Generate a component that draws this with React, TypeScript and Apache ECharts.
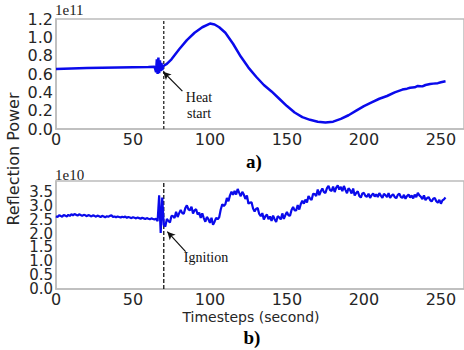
import React, { useEffect, useRef } from "react";
import * as echarts from "echarts";

// ---- data ----
// top panel a): reflection power (x1e11) vs time (s)
const topX = [0, 10, 20, 30, 40, 50, 60, 64, 65, 65.5, 66, 66.5, 67, 67.5, 68, 68.5, 69, 69.5, 70, 72, 75, 80, 85, 90, 95, 100, 103, 106, 110, 115, 120, 125, 130, 135, 140, 145, 150, 155, 160, 165, 170, 175, 180, 185, 190, 195, 200, 205, 210, 215, 220, 225, 228, 230, 233, 235, 238, 240, 243, 245, 248, 250, 253];
const topY = [0.655, 0.66, 0.665, 0.668, 0.671, 0.674, 0.677, 0.68, 0.62, 0.76, 0.6, 0.78, 0.61, 0.75, 0.63, 0.72, 0.64, 0.68, 0.69, 0.71, 0.76, 0.87, 0.97, 1.05, 1.11, 1.15, 1.14, 1.11, 1.05, 0.93, 0.79, 0.67, 0.57, 0.48, 0.41, 0.33, 0.25, 0.18, 0.13, 0.1, 0.08, 0.07, 0.08, 0.11, 0.15, 0.2, 0.25, 0.29, 0.33, 0.36, 0.4, 0.43, 0.44, 0.45, 0.455, 0.47, 0.465, 0.48, 0.49, 0.495, 0.5, 0.51, 0.52];

// bottom panel b): reflection power (x1e10), one value per second from t = 0
const bottomY = [
  2.63, 2.6, 2.66, 2.64, 2.61, 2.67, 2.65, 2.62, 2.68, 2.64,
  2.7, 2.66, 2.71, 2.68, 2.65, 2.7, 2.67, 2.64, 2.68, 2.66,
  2.63, 2.67, 2.65, 2.62, 2.66, 2.64, 2.61, 2.65, 2.63, 2.6,
  2.64, 2.62, 2.59, 2.63, 2.61, 2.64, 2.66, 2.6, 2.62, 2.59,
  2.62, 2.6, 2.58, 2.61, 2.59, 2.62, 2.57, 2.6, 2.58, 2.56,
  2.59, 2.57, 2.55, 2.58, 2.56, 2.54, 2.57, 2.55, 2.53, 2.56,
  2.54, 2.52, 2.55, 2.53, 2.51, 2.54, 2.45, 3.38, 2.02, 3.3,
  2.31, 2.26, 2.53, 2.46, 2.4, 2.64, 2.63, 2.56, 2.79, 2.6,
  2.74, 2.85, 2.74, 2.72, 2.92, 3.02, 2.88, 2.84, 2.97, 2.73,
  2.84, 2.88, 2.69, 2.76, 2.57, 2.73, 2.56, 2.43, 2.6, 2.52,
  2.39, 2.57, 2.32, 2.43, 2.57, 2.52, 2.59, 2.87, 3.06, 3.0,
  3.06, 3.29, 3.17, 3.38, 3.51, 3.4, 3.54, 3.41, 3.61, 3.47,
  3.35, 3.51, 3.41, 3.25, 3.38, 3.08, 3.12, 3.13, 2.91, 2.8,
  2.9, 2.92, 2.71, 2.63, 2.74, 2.51, 2.63, 2.69, 2.52, 2.62,
  2.46, 2.65, 2.52, 2.42, 2.63, 2.59, 2.51, 2.73, 2.53, 2.67,
  2.78, 2.66, 2.65, 2.85, 2.96, 2.84, 2.84, 3.03, 2.87, 3.07,
  3.19, 3.08, 3.23, 3.12, 3.36, 3.27, 3.21, 3.44, 3.43, 3.36,
  3.59, 3.39, 3.53, 3.63, 3.5, 3.47, 3.64, 3.72, 3.57, 3.54,
  3.7, 3.5, 3.66, 3.74, 3.59, 3.69, 3.53, 3.72, 3.58, 3.46,
  3.64, 3.57, 3.45, 3.63, 3.38, 3.47, 3.53, 3.36, 3.3, 3.45,
  3.47, 3.36, 3.33, 3.44, 3.29, 3.39, 3.45, 3.34, 3.42, 3.32,
  3.46, 3.37, 3.29, 3.43, 3.39, 3.32, 3.46, 3.29, 3.37, 3.42,
  3.32, 3.28, 3.4, 3.44, 3.32, 3.29, 3.4, 3.26, 3.36, 3.41,
  3.3, 3.38, 3.27, 3.41, 3.32, 3.47, 3.38, 3.33, 3.25, 3.38,
  3.21, 3.28, 3.32, 3.21, 3.16, 3.26, 3.29, 3.17, 3.12, 3.22,
  3.08, 3.2, 3.24, 3.3,
];

// event markers (time in seconds)
const heatStartTime = 70;
const ignitionTime = 70;

// annotation arrows [tail, head] in data coordinates
const heatArrow = [[82.1, 0.414], [69.6, 0.625]];
const ignitionArrow = [[84.2, 1.35], [72.3, 2.07]];

// axes
const xMin = 0;
const xMax = 265;
const xInterval = 50;
const topYMax = 1.2;
const topYInterval = 0.2;
const bottomYMax = 3.9;
const bottomYInterval = 0.5;
// bottom panel tick labels (drawn at positions from the axis scale)
const bottomYTicks = [0, 0.5, 1, 1.5, 2, 2.5, 3, 3.5];

const LINE_BLUE = "#0a0aeb";
const FRAME = "#bcbcbc";
const TICK_TEXT = "#262626";
const SANS = "DejaVu Sans";
const SERIF = "Liberation Serif";

export default function App() {
  const ref = useRef<HTMLDivElement>(null);

  useEffect(() => {
    if (!ref.current) return;
    const chart = echarts.init(ref.current, null, { renderer: "svg" });

    const xAxisBase = (gridIndex: number) => ({
      type: "value",
      gridIndex,
      min: xMin,
      max: xMax,
      interval: xInterval,
      axisLine: { show: true, lineStyle: { color: FRAME, width: 1.5 } },
      axisTick: { show: false },
      splitLine: { show: false },
      axisLabel: {
        show: true,
        showMinLabel: true,
        showMaxLabel: false,
        margin: 3,
        fontFamily: SANS,
        fontSize: 16,
        lineHeight: 14,
        color: TICK_TEXT,
      },
    });

    const yAxisBase = (gridIndex: number, max: number, interval: number, showLabels: boolean) => ({
      type: "value",
      gridIndex,
      min: 0,
      max,
      interval,
      axisLine: { show: true, lineStyle: { color: FRAME, width: 1.5 } },
      axisTick: { show: false },
      splitLine: { show: false },
      axisLabel: {
        show: showLabels,
        showMinLabel: true,
        showMaxLabel: true,
        margin: 3,
        fontFamily: SANS,
        fontSize: 16,
        lineHeight: 12,
        color: TICK_TEXT,
        formatter: (v: number) => v.toFixed(1),
      },
    });

    const arrowMarkLine = (arrow: number[][]) => ({
      silent: true,
      symbol: ["none", "arrow"],
      symbolSize: [6, 8],
      label: { show: false },
      lineStyle: { color: "#111", width: 1.2, type: "solid" },
      data: [[{ coord: arrow[0] }, { coord: arrow[1] }]],
    });

    const gridWidth = ((xMax - xMin) * 77.6) / 50;

    const staticGraphics = [
      {
        type: "text",
        left: 55,
        top: 2,
        style: { text: "1e11", font: `15px "${SERIF}"`, fill: "#222" },
      },
      {
        type: "text",
        left: 55,
        top: 167,
        style: { text: "1e10", font: `15px "${SERIF}"`, fill: "#222" },
      },
      {
        type: "text",
        x: 199,
        y: 105,
        style: {
          text: "Heat\nstart",
          font: `14px "${SERIF}"`,
          fill: "#111",
          align: "center",
          verticalAlign: "middle",
          lineHeight: 16,
        },
      },
      {
        type: "text",
        x: 206,
        y: 257.5,
        style: {
          text: "Ignition",
          font: `14px "${SERIF}"`,
          fill: "#111",
          align: "center",
          verticalAlign: "middle",
        },
      },
      {
        type: "text",
        x: 254,
        y: 161,
        style: {
          text: "a)",
          font: `bold 19px "${SERIF}"`,
          fill: "#000",
          align: "center",
          verticalAlign: "middle",
        },
      },
      {
        type: "text",
        x: 252,
        y: 337,
        style: {
          text: "b)",
          font: `bold 19px "${SERIF}"`,
          fill: "#000",
          align: "center",
          verticalAlign: "middle",
        },
      },
      {
        type: "text",
        x: 13,
        y: 159,
        rotation: Math.PI / 2,
        style: {
          text: "Reflection Power",
          font: `16px "${SANS}"`,
          fill: TICK_TEXT,
          align: "center",
          verticalAlign: "middle",
        },
      },
      {
        type: "text",
        x: 251,
        y: 317,
        style: {
          text: "Timesteps (second)",
          font: `14px "${SANS}"`,
          fill: TICK_TEXT,
          align: "center",
          verticalAlign: "middle",
        },
      },
    ];

    chart.setOption({
      animation: false,
      backgroundColor: "#ffffff",
      grid: [
        {
          left: 56,
          top: 19,
          width: gridWidth,
          height: 110,
          show: true,
          borderColor: FRAME,
          borderWidth: 1.5,
          containLabel: false,
        },
        {
          left: 56,
          top: 181,
          width: gridWidth,
          height: 108,
          show: true,
          borderColor: FRAME,
          borderWidth: 1.5,
          containLabel: false,
        },
      ],
      xAxis: [xAxisBase(0), xAxisBase(1)],
      yAxis: [
        yAxisBase(0, topYMax, topYInterval, true),
        yAxisBase(1, bottomYMax, bottomYInterval, false),
      ],
      series: [
        {
          type: "line",
          xAxisIndex: 0,
          yAxisIndex: 0,
          data: [[heatStartTime, 0], [heatStartTime, topYMax]],
          showSymbol: false,
          silent: true,
          lineStyle: { color: "#222", width: 1.3, type: [3, 2] },
          z: 1,
        },
        {
          type: "line",
          xAxisIndex: 1,
          yAxisIndex: 1,
          data: [[ignitionTime, 0], [ignitionTime, bottomYMax]],
          showSymbol: false,
          silent: true,
          lineStyle: { color: "#111", width: 1.3, type: [4, 2] },
          z: 1,
        },
        {
          type: "line",
          xAxisIndex: 0,
          yAxisIndex: 0,
          data: topX.map((x, i) => [x, topY[i]]),
          showSymbol: false,
          lineStyle: { color: LINE_BLUE, width: 2.5 },
          markLine: arrowMarkLine(heatArrow),
          z: 3,
        },
        {
          type: "line",
          xAxisIndex: 1,
          yAxisIndex: 1,
          data: bottomY.map((v, i) => [i, v]),
          showSymbol: false,
          lineStyle: { color: LINE_BLUE, width: 2.2 },
          markLine: arrowMarkLine(ignitionArrow),
          z: 3,
        },
      ],
      graphic: staticGraphics,
    });

    // bottom y tick labels, placed through the axis scale
    const tickLabels = bottomYTicks.map((v) => {
      const py = chart.convertToPixel({ yAxisIndex: 1 }, v) as number;
      return {
        type: "text",
        x: 53,
        y: py,
        style: {
          text: v.toFixed(1),
          font: `15px "${SANS}"`,
          fill: TICK_TEXT,
          align: "right",
          verticalAlign: "middle",
        },
      };
    });
    chart.setOption({ graphic: [...staticGraphics, ...tickLabels] });

    return () => chart.dispose();
  }, []);

  return (
    <div
      ref={ref}
      style={{ position: "absolute", left: 0, top: 0, width: 464, height: 350 }}
    />
  );
}
